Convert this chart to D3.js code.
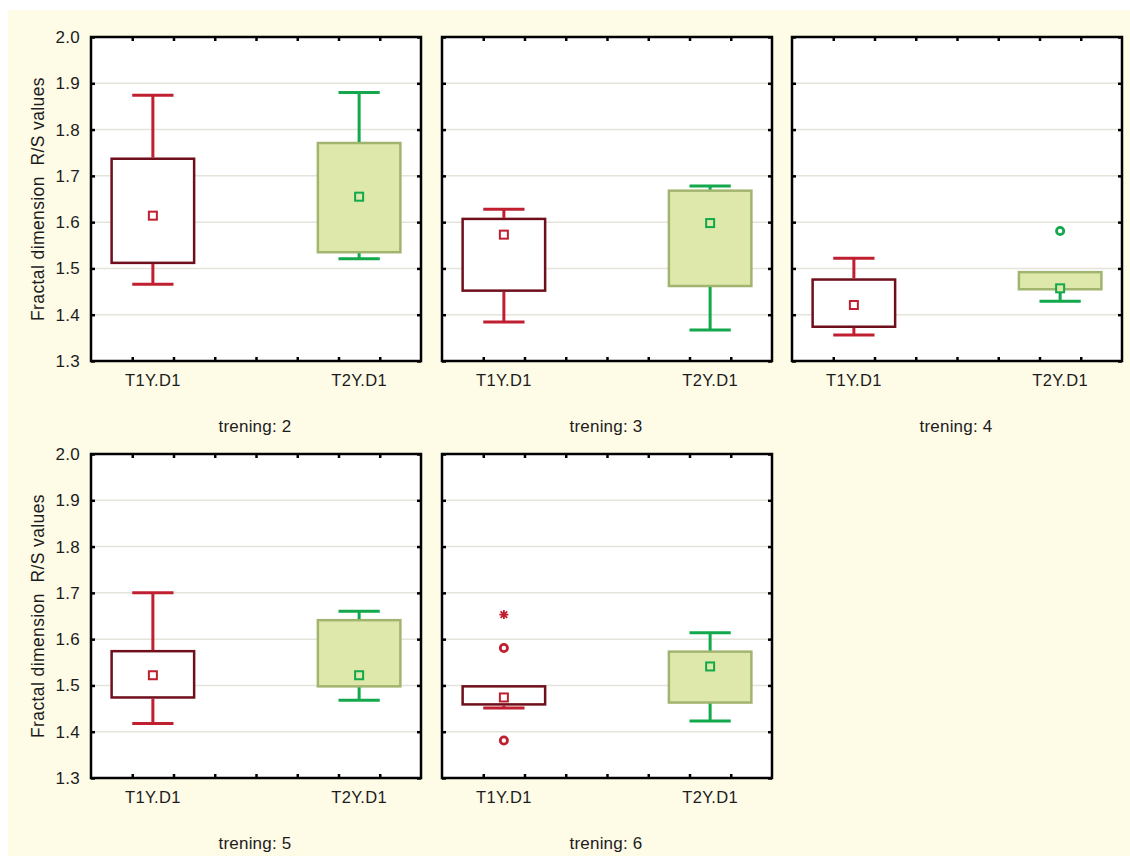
<!DOCTYPE html>
<html>
<head>
<meta charset="utf-8">
<script src="https://cdn.jsdelivr.net/npm/d3@7"></script>
<style>
  body { margin: 0; background: #fff; }
  svg text { font-family: "Liberation Sans", Arial, sans-serif; fill: #1c1c1c; }
</style>
</head>
<body>
<svg id="chart" width="1130" height="856"></svg>
<script>
// box-whisker data per panel, [T1Y.D1, T2Y.D1]
const panelTitles = ["trening: 2", "trening: 3", "trening: 4", "trening: 5", "trening: 6"];
const categories = ["T1Y.D1", "T2Y.D1"];
const yTicks = [1.3, 1.4, 1.5, 1.6, 1.7, 1.8, 1.9, 2.0];
const whiskerLow  = [[1.466, 1.521], [1.384, 1.367], [1.356, 1.429], [1.418, 1.468], [1.451, 1.423]];
const boxLow      = [[1.512, 1.535], [1.452, 1.462], [1.374, 1.455], [1.474, 1.498], [1.459, 1.463]];
const boxHigh     = [[1.737, 1.771], [1.607, 1.668], [1.476, 1.492], [1.574, 1.641], [1.498, 1.573]];
const whiskerHigh = [[1.874, 1.880], [1.628, 1.678], [1.522, null], [1.700, 1.660], [null, 1.614]];
const means       = [[1.614, 1.655], [1.573, 1.598], [1.421, 1.457], [1.522, 1.522], [1.474, 1.541]];
const outliers    = [[[], []], [[], []], [[], [1.581]], [[], []], [[1.581, 1.381], []]];
const extremes    = [[[], []], [[], []], [[], []], [[], []], [[1.653], []]];

const colLeft = [91, 442, 792], rowTop = [37, 454];
const W = 330, H = 324;
const catPos = [1.5, 6.5];
const strokeCol = ["#c01f30", "#12a84b"];
const boxStroke = ["#6e0f1b", "#a2b56f"];
const boxFill = ["#ffffff", "#dde8aa"];

const svg = d3.select("#chart");
svg.append("rect").attr("x", 8).attr("y", 10).attr("width", 1122).attr("height", 846).attr("fill", "#fefbe7");

const y = d3.scaleLinear().domain([1.3, 2.0]).range([H, 0]);
const x = d3.scaleLinear().domain([0, 8]).range([0, W]);

panelTitles.forEach((title, p) => {
    const col = p % 3, row = Math.floor(p / 3);
    const g = svg.append("g").attr("transform", `translate(${colLeft[col]},${rowTop[row]})`);

    g.append("rect").attr("width", W).attr("height", H).attr("fill", "#fff");

    // grid
    g.selectAll(".grid").data(yTicks.slice(1, -1)).join("line")
        .attr("x1", 0).attr("x2", W)
        .attr("y1", d => y(d)).attr("y2", d => y(d))
        .attr("stroke", "#e4e4da").attr("stroke-width", 1.5);

    // inward ticks on all sides
    const tl = 4;
    g.append("g").call(d3.axisRight(y).tickValues(yTicks).tickSize(tl).tickFormat(""))
        .call(a => a.select(".domain").remove());
    g.append("g").attr("transform", `translate(${W},0)`)
        .call(d3.axisLeft(y).tickValues(yTicks).tickSize(tl).tickFormat(""))
        .call(a => a.select(".domain").remove());
    g.append("g").call(d3.axisBottom(x).tickValues(d3.range(1, 8)).tickSize(tl).tickFormat(""))
        .call(a => a.select(".domain").remove());
    g.append("g").attr("transform", `translate(0,${H})`)
        .call(d3.axisTop(x).tickValues(d3.range(1, 8)).tickSize(tl).tickFormat(""))
        .call(a => a.select(".domain").remove());
    g.selectAll(".tick line").attr("stroke", "#000").attr("stroke-width", 2.5);

    g.append("rect").attr("width", W).attr("height", H)
        .attr("fill", "none").attr("stroke", "#000").attr("stroke-width", 2.5);

    categories.forEach((cat, c) => {
        const cx = x(catPos[c]);
        const bx0 = x(catPos[c] - 1), bx1 = x(catPos[c] + 1);
        const wx0 = x(catPos[c] - 0.5), wx1 = x(catPos[c] + 0.5);

        g.append("rect")
            .attr("x", bx0).attr("width", bx1 - bx0)
            .attr("y", y(boxHigh[p][c])).attr("height", y(boxLow[p][c]) - y(boxHigh[p][c]))
            .attr("fill", boxFill[c]).attr("stroke", boxStroke[c]).attr("stroke-width", 2.5);

        const wl = whiskerLow[p][c], wh = whiskerHigh[p][c];
        if (wl != null) {
            g.append("line").attr("x1", cx).attr("x2", cx)
                .attr("y1", y(boxLow[p][c]) + 1).attr("y2", y(wl))
                .attr("stroke", strokeCol[c]).attr("stroke-width", 3);
            g.append("line").attr("x1", wx0).attr("x2", wx1)
                .attr("y1", y(wl)).attr("y2", y(wl))
                .attr("stroke", strokeCol[c]).attr("stroke-width", 3);
        }
        if (wh != null) {
            g.append("line").attr("x1", cx).attr("x2", cx)
                .attr("y1", y(boxHigh[p][c]) - 1).attr("y2", y(wh))
                .attr("stroke", strokeCol[c]).attr("stroke-width", 3);
            g.append("line").attr("x1", wx0).attr("x2", wx1)
                .attr("y1", y(wh)).attr("y2", y(wh))
                .attr("stroke", strokeCol[c]).attr("stroke-width", 3);
        }

        g.append("rect")
            .attr("x", cx - 4).attr("y", y(means[p][c]) - 4)
            .attr("width", 8).attr("height", 8)
            .attr("fill", boxFill[c])
            .attr("stroke", strokeCol[c]).attr("stroke-width", 2);

        g.selectAll(null).data(outliers[p][c]).join("circle")
            .attr("cx", cx).attr("cy", d => y(d)).attr("r", 3.6)
            .attr("fill", "#fff").attr("stroke", strokeCol[c]).attr("stroke-width", 2.8);

        g.selectAll(null).data(extremes[p][c]).join("path")
            .attr("transform", d => `translate(${cx},${y(d)})`)
            .attr("d", "M-4.5,0H4.5M0,-4.5V4.5M-3.3,-3.3L3.3,3.3M-3.3,3.3L3.3,-3.3")
            .attr("stroke", strokeCol[c]).attr("stroke-width", 1.8);

        g.append("text").attr("x", cx).attr("y", H + 25)
            .attr("text-anchor", "middle").attr("font-size", 16.5)
            .attr("letter-spacing", 0.3).text(cat);
    });

    g.append("text").attr("x", W / 2 - 1).attr("y", H + 71)
        .attr("text-anchor", "middle").attr("font-size", 17)
        .attr("letter-spacing", 0.2).text(title);

    if (col === 0) {
        g.selectAll(".ylab").data(yTicks).join("text")
            .attr("x", -11).attr("y", d => y(d))
            .attr("dy", "0.35em").attr("text-anchor", "end")
            .attr("font-size", 17).attr("letter-spacing", 0.3)
            .text(d => d.toFixed(1));
        g.append("text")
            .attr("transform", `translate(-47,${H / 2}) rotate(-90)`)
            .attr("text-anchor", "middle").attr("font-size", 17.5)
            .attr("letter-spacing", 0.4)
            .attr("xml:space", "preserve")
            .text("Fractal dimension  R/S values");
    }
});
</script>
</body>
</html>
